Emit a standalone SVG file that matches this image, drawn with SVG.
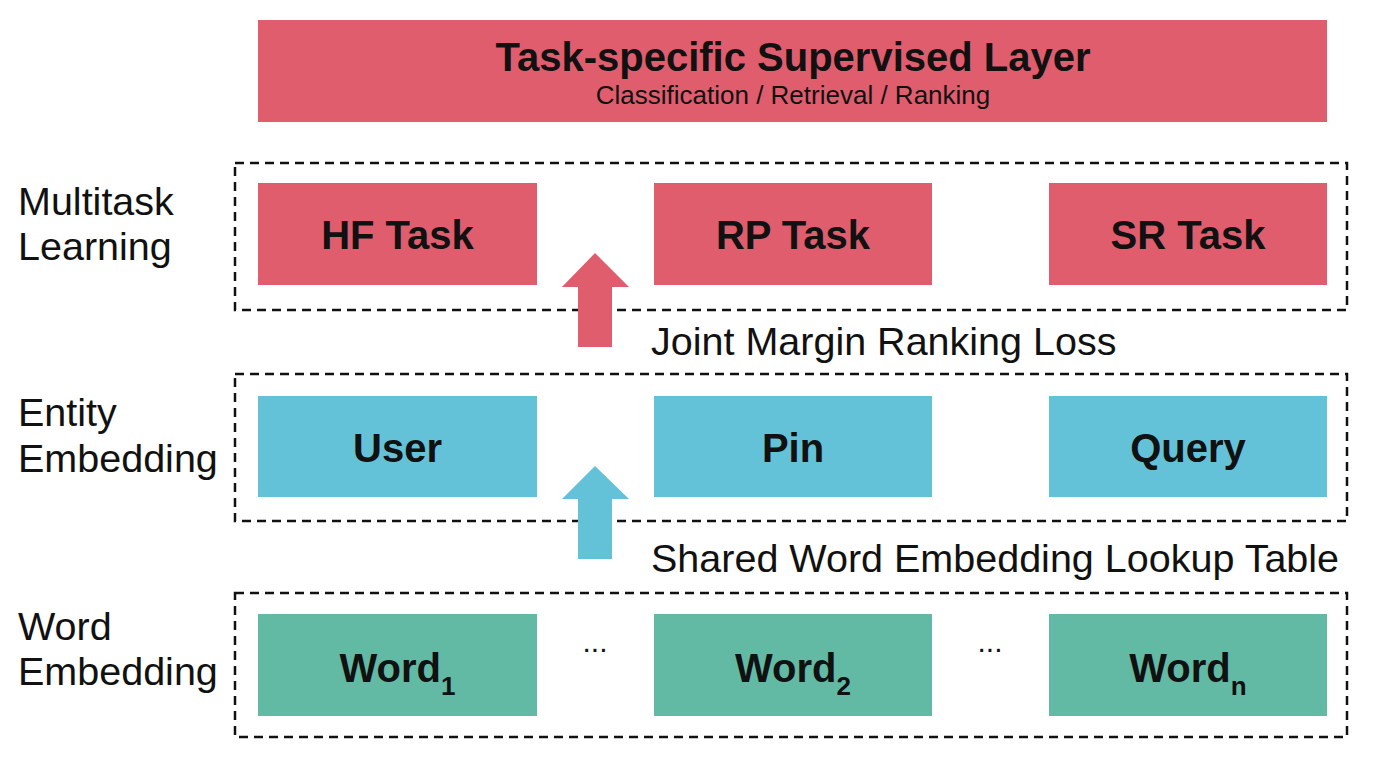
<svg xmlns="http://www.w3.org/2000/svg" width="1376" height="770" viewBox="0 0 1376 770">
<style>
.red{fill:#E05D6E}
.blue{fill:#64C2D8}
.green{fill:#62BAA5}
.frame{fill:none;stroke:#111;stroke-width:2.5;stroke-dasharray:9 6}
text{font-family:"Liberation Sans",Arial,sans-serif;fill:#111}
.lbl{font-size:39.5px}
.b{font-size:40px;font-weight:bold;text-anchor:middle}
.sub{font-size:26px;font-weight:bold}
.dots{font-size:30px;text-anchor:middle}
</style>
<rect width="1376" height="770" fill="#fff"/>
<g id="top-layer">
<rect class="red" x="258" y="20" width="1069" height="102"/>
<text class="b" x="793" y="71">Task-specific Supervised Layer</text>
<text x="793" y="104" font-size="26" text-anchor="middle">Classification / Retrieval / Ranking</text>
</g>
<g id="labels">
<text class="lbl" x="18" y="215">Multitask</text>
<text class="lbl" x="18" y="260">Learning</text>
<text class="lbl" x="18" y="426">Entity</text>
<text class="lbl" x="18" y="472">Embedding</text>
<text class="lbl" x="18" y="640">Word</text>
<text class="lbl" x="18" y="685">Embedding</text>
<text class="lbl" x="651" y="355">Joint Margin Ranking Loss</text>
<text class="lbl" x="651" y="572">Shared Word Embedding Lookup Table</text>
</g>
<g id="frames">
<rect class="frame" x="235" y="163" width="1112" height="147"/>
<rect class="frame" x="235" y="374" width="1112" height="147"/>
<rect class="frame" x="235" y="593" width="1112" height="144"/>
</g>
<g id="hf-task"><rect class="red" x="258" y="183" width="279" height="102"/><text class="b" x="397.5" y="249">HF Task</text></g>
<g id="rp-task"><rect class="red" x="654" y="183" width="278" height="102"/><text class="b" x="793" y="249">RP Task</text></g>
<g id="sr-task"><rect class="red" x="1049" y="183" width="278" height="102"/><text class="b" x="1188" y="249">SR Task</text></g>
<g id="user"><rect class="blue" x="258" y="396" width="279" height="101"/><text class="b" x="397.5" y="462">User</text></g>
<g id="pin"><rect class="blue" x="654" y="396" width="278" height="101"/><text class="b" x="793" y="462">Pin</text></g>
<g id="query"><rect class="blue" x="1049" y="396" width="278" height="101"/><text class="b" x="1188" y="462">Query</text></g>
<g id="word1"><rect class="green" x="258" y="614" width="279" height="102"/><text class="b" x="397.5" y="682">Word<tspan class="sub" dy="13">1</tspan></text></g>
<g id="word2"><rect class="green" x="654" y="614" width="278" height="102"/><text class="b" x="793" y="682">Word<tspan class="sub" dy="13">2</tspan></text></g>
<g id="wordn"><rect class="green" x="1049" y="614" width="278" height="102"/><text class="b" x="1188" y="682">Word<tspan class="sub" dy="13">n</tspan></text></g>
<g id="ellipses">
<text class="dots" x="595" y="652">...</text>
<text class="dots" x="990" y="652">...</text>
</g>
<g id="connectors">
<polygon class="red" points="595,253 629,287 612,287 612,347 578,347 578,287 562,287"/>
<polygon class="blue" points="595,466 629,499 612,499 612,559 578,559 578,499 562,499"/>
</g>
</svg>
